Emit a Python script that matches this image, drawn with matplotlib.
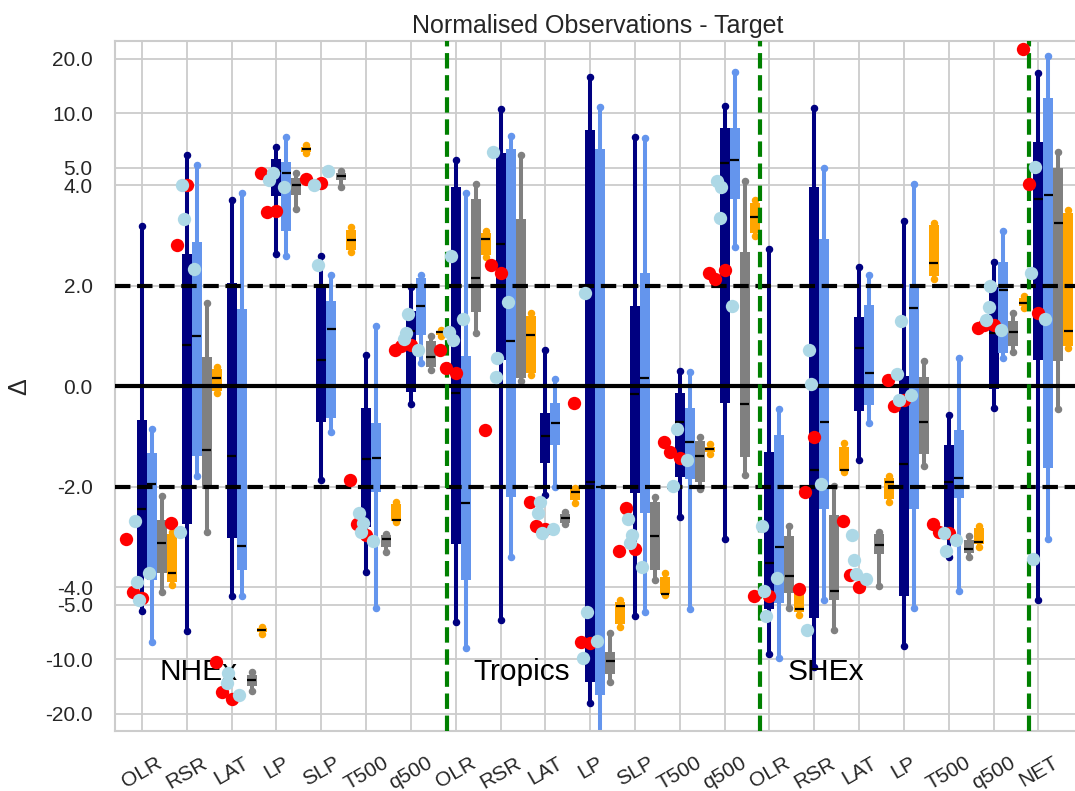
import matplotlib
matplotlib.use('Agg')

import matplotlib.pyplot as plt
import numpy as np

plt.rcParams['font.family'] = ['Liberation Sans', 'DejaVu Sans']

nan = np.nan

tick_labels = ['OLR', 'RSR', 'LAT', 'LP', 'SLP', 'T500', 'q500',
               'OLR', 'RSR', 'LAT', 'LP', 'SLP', 'T500', 'q500',
               'OLR', 'RSR', 'LAT', 'LP', 'T500', 'q500', 'NET']
regions = ['NHEx', 'Tropics', 'SHEx']
region_start = [0, 7, 14]
region_bounds = [6.8, 13.8, 19.8]

# box statistics: low whisker, q1, median, q3, high whisker
navy_stats = [
    (-5.4, -3.8, -2.45, -0.67, 3.19),
    (-7.0, -2.75, 0.81, 2.63, 5.9),
    (-4.5, -3.03, -1.39, 2.05, 3.71),
    (2.63, 3.78, 4.8, 5.6, 6.5),
    (-1.87, -0.71, 0.52, 1.97, 2.59),
    (-3.7, -2.8, -1.45, -0.44, 0.62),
    (-0.35, -0.12, 1.09, 1.5, 1.98),
    (-6.2, -3.15, -0.14, 3.97, 5.5),
    (-6.05, 0.52, 2.83, 6.0, 10.5),
    (-2.16, -1.53, -1.0, -0.54, 0.72),
    (-17.4, -13.3, -1.9, 8.1, 15.9),
    (-5.8, -2.13, -0.16, 1.6, 7.4),
    (-2.61, -1.8, -0.71, -0.13, 0.31),
    (-3.05, -0.33, 5.3, 8.3, 11.0),
    (-9.4, -5.3, -3.52, -1.3, 2.73),
    (-11.0, -5.9, -1.66, 3.97, 10.7),
    (-1.46, -0.49, 0.77, 1.37, 2.38),
    (-8.4, -4.5, -1.54, 0.2, 3.29),
    (-3.4, -2.86, -1.9, -1.17, -0.57),
    (-0.44, -0.06, 1.05, 1.97, 2.48),
    (-4.7, 0.52, 3.73, 6.9, 16.6),
]
blue_stats = [
    (-8.0, -3.86, -1.95, -1.33, -0.85),
    (-1.78, -1.39, 0.99, 2.86, 5.2),
    (-4.45, -3.66, -3.18, 1.53, 3.85),
    (2.59, 3.08, 4.7, 5.4, 7.4),
    (-0.91, -0.64, 1.13, 1.7, 2.21),
    (-5.2, -2.1, -1.43, -0.74, 1.19),
    (0.47, 1.02, 1.6, 2.15, 2.21),
    (-8.7, -3.86, -2.33, 0.6, 3.85),
    (-3.4, -2.2, 0.89, 6.3, 7.5),
    (-2.0, -1.17, -0.73, -0.34, 0.14),
    (-30.0, -15.7, -2.0, 6.3, 10.8),
    (-5.5, -2.53, 0.16, 2.26, 7.3),
    (-5.3, -1.84, -1.12, -0.44, 0.29),
    (2.77, 3.72, 5.5, 8.3, 17.0),
    (-9.8, -4.9, -3.19, -0.97, -0.46),
    (-4.7, -2.45, -0.71, 2.93, 4.95),
    (-0.73, -0.37, 0.26, 1.62, 2.21),
    (-5.2, -2.45, 1.55, 2.04, 4.04),
    (-4.2, -2.23, -1.82, -0.87, 0.56),
    (0.57, 0.66, 1.92, 2.47, 3.08),
    (-3.05, -1.63, 3.81, 12.2, 20.8),
]
grey_stats = [
    (-4.26, -3.72, -3.12, -2.67, -2.19),
    (-2.9, -2.05, -1.27, 0.58, 1.65),
    (-15.0, -14.0, -13.1, -12.2, -11.8),
    (3.53, 3.81, 4.0, 4.4, 4.7),
    (3.97, 4.3, 4.5, 4.65, 4.8),
    (-3.3, -3.2, -3.04, -2.97, -2.95),
    (0.32, 0.39, 0.59, 0.89, 0.99),
    (1.05, 1.47, 2.16, 3.73, 4.05),
    (0.1, 0.16, 2.0, 3.33, 5.9),
    (-2.75, -2.72, -2.63, -2.55, -2.5),
    (-13.3, -12.0, -10.2, -9.1, -7.2),
    (-3.85, -3.66, -2.98, -2.3, -2.2),
    (-2.05, -1.9, -1.39, -1.1, -1.02),
    (-1.76, -1.4, -0.35, 2.67, 4.2),
    (-5.2, -4.3, -3.78, -2.98, -2.78),
    (-6.9, -4.7, -4.2, -2.56, -1.99),
    (-3.98, -3.33, -3.16, -2.94, -2.9),
    (-1.59, -1.34, -0.71, 0.19, 0.5),
    (-3.4, -3.32, -3.23, -3.06, -2.98),
    (0.69, 0.79, 1.07, 1.3, 1.46),
    (-0.46, 0.51, 3.25, 4.95, 6.1),
]
orange_stats = [
    (-3.95, -3.9, -3.72, -2.95, -2.9),
    (-0.14, -0.1, 0.17, 0.35, 0.39),
    (-7.3, -7.1, -6.9, -6.7, -6.6),
    (6.0, 6.1, 6.3, 6.5, 6.7),
    (2.67, 2.72, 2.91, 3.1, 3.16),
    (-2.7, -2.68, -2.67, -2.35, -2.3),
    (1.0, 1.02, 1.07, 1.1, 1.12),
    (2.57, 2.62, 2.93, 3.04, 3.09),
    (0.22, 0.27, 1.02, 1.4, 1.46),
    (-2.32, -2.27, -2.1, -2.05, -2.03),
    (-6.6, -6.4, -5.1, -4.8, -4.7),
    (-4.4, -4.35, -4.35, -3.8, -3.72),
    (-1.35, -1.3, -1.24, -1.2, -1.15),
    (2.99, 3.05, 3.36, 3.65, 3.71),
    (-5.7, -5.5, -5.25, -4.3, -4.2),
    (-1.7, -1.68, -1.66, -1.2, -1.14),
    (-2.3, -2.25, -1.9, -1.82, -1.78),
    (2.13, 2.2, 2.45, 3.2, 3.25),
    (-3.2, -3.15, -3.1, -2.82, -2.78),
    (1.55, 1.6, 1.66, 1.75, 1.8),
    (0.76, 0.8, 1.09, 3.45, 3.51),
]

# individual observations (red) and targets (light blue)
red_points = [
    [-3.05, -4.26, -4.6], [-2.73, 2.81, 4.0], [-10.4, -15.2, -16.5],
    [4.7, 3.46, 3.49], [4.35, nan, 4.1], [-1.86, -2.75, -2.97],
    [0.72, 0.79, 0.82], [0.72, 0.36, 0.26], [-0.87, 2.41, 2.26],
    [-2.3, -2.79, -2.84], [-0.33, -8.0, -8.1], [-3.27, -2.42, -3.23],
    [-1.12, -1.3, -1.42], [2.26, 2.13, 2.31], [-4.5, nan, -4.5],
    [-4.1, -2.1, -1.02], [-2.68, -3.76, -4.0], [0.12, -0.4, -0.28],
    [-2.75, -2.9, -2.93], [1.15, 1.22, 1.22], [22.6, 4.05, 1.45],
]
blue_points = [
    [-2.69, -3.9, -4.7, -3.72], [-2.9, 4.0, 3.33, 2.34],
    [nan, -13.6, -11.9, -15.7], [4.3, nan, 4.7, 3.96],
    [4.0, nan, 2.41, 4.8], [-2.52, -2.9, -2.73, -3.08],
    [0.93, 1.05, 1.44, 0.73], [1.07, 2.59, 0.92, 1.34],
    [6.1, 0.18, 0.56, 1.68], [-2.53, -2.3, -2.93, -2.84],
    [-9.8, 1.85, -5.5, -7.9], [-2.65, -3.13, -2.96, -3.59],
    [-1.99, nan, -0.86, -1.47], [4.2, 3.34, 3.96, 1.6],
    [-2.78, -4.2, -5.8, -3.82], [-6.9, 0.72, 0.04, -1.95],
    [-2.96, -3.46, -3.73, -3.83], [0.24, -0.28, 1.3, -0.18],
    [nan, -2.92, -3.28, -3.06], [1.32, 1.57, 2.0, 1.12],
    [2.26, -3.44, 5.05, 1.33],
]
red_jitter = [-0.35, -0.21, 0.0]
blue_jitter = [-0.16, -0.11, -0.07, 0.16]

y_ticks = [-20, -10, -5, -4, -2, 0, 2, 4, 5, 10, 20]

fig = plt.figure(figsize=(10.75, 7.91), dpi=100)
ax = fig.add_axes([115 / 1075, 59.8 / 791, 965 / 1075, 690 / 791])
ax.set_yscale('symlog', linthresh=4, linscale=1)

pos = np.arange(len(tick_labels))
series = [
    (navy_stats, 'navy', 0.0),
    (blue_stats, 'cornflowerblue', 0.223),
    (grey_stats, 'grey', 0.446),
    (orange_stats, 'orange', 0.67),
]
for stats, color, off in series:
    s = np.array(stats)
    x = pos + off
    ax.vlines(x, s[:, 0], s[:, 4], color=color, lw=2.9, zorder=2)
    ax.plot(x, s[:, 0], 'o', color=color, ms=4.4, zorder=2)
    ax.plot(x, s[:, 4], 'o', color=color, ms=4.4, zorder=2)
    ax.vlines(x, s[:, 1], s[:, 3], color=color, lw=7.2, zorder=2)
    ax.hlines(s[:, 2], x - 0.1, x + 0.1, color='black', lw=1.6, zorder=2.5)

# reference lines
ax.axhline(0, color='black', lw=3, zorder=3)
ax.axhline(2, color='black', lw=3, ls='--', zorder=3)
ax.axhline(-2, color='black', lw=3, ls='--', zorder=3)
for xb in region_bounds:
    ax.axvline(xb, color='green', lw=3, ls='--', zorder=3)

for name, start in zip(regions, region_start):
    ax.text(start + 0.4, -13.1, name, fontsize=21.5, color='black',
            va='baseline', ha='left', zorder=3.5)

for i in range(len(tick_labels)):
    for v, dx in zip(red_points[i], red_jitter):
        ax.plot(pos[i] + dx, v, 'o', color='red', ms=9.6, mew=0, zorder=4)
    for v, dx in zip(blue_points[i], blue_jitter):
        ax.plot(pos[i] + dx, v, 'o', color='lightblue', ms=9.6, mew=0, zorder=4)

ax.set_xlim(-0.602, 20.93)
ax.set_ylim(-25, 25)
ax.set_xticks(pos)
ax.set_xticklabels(tick_labels, rotation=30, ha='center', fontsize=15,
                   color='#262626')
ax.set_yticks(y_ticks)
ax.set_yticklabels([f'{t:.1f}' for t in y_ticks], fontsize=15, color='#262626')
ax.yaxis.set_minor_locator(matplotlib.ticker.NullLocator())
ax.tick_params(axis='both', length=0, pad=16)

ax.grid(True, color='#cccccc', lw=1.3, zorder=0)
ax.set_axisbelow(True)
for sp in ax.spines.values():
    sp.set_color('#cccccc')
    sp.set_linewidth(1.5)

ax.set_ylabel('Δ', fontsize=18, color='#262626', labelpad=10)
ax.set_title('Normalised Observations - Target', fontsize=18, color='#262626')

fig.savefig('out.png', dpi=100)
plt.close(fig)
